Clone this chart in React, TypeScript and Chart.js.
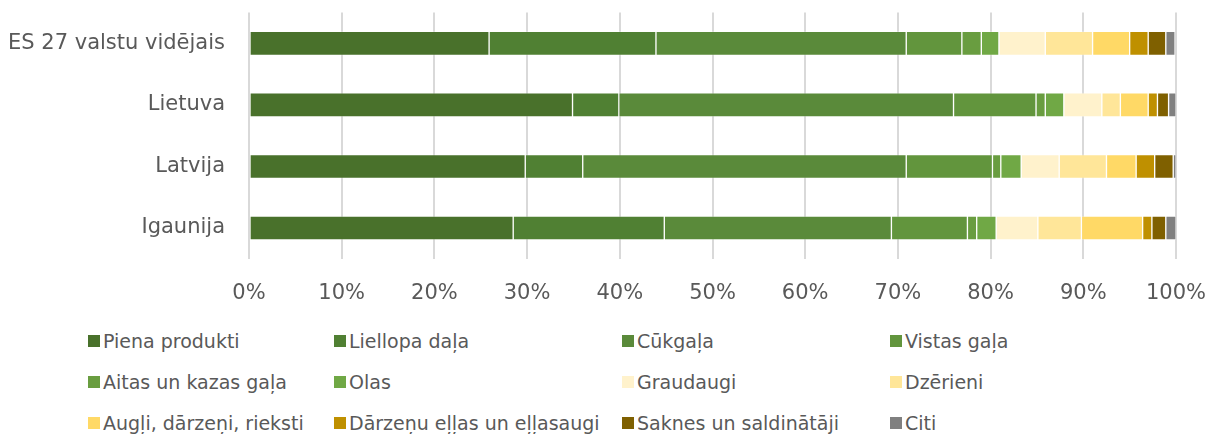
import React, { useEffect, useRef } from "react";
import { Chart, registerables } from "chart.js";

Chart.register(...registerables);

const categories = ["ES 27 valstu vidējais", "Lietuva", "Latvija", "Igaunija"];
const xTicks = [0, 10, 20, 30, 40, 50, 60, 70, 80, 90, 100];

const seriesNames = [
  "Piena produkti",
  "Liellopa daļa",
  "Cūkgaļa",
  "Vistas gaļa",
  "Aitas un kazas gaļa",
  "Olas",
  "Graudaugi",
  "Dzērieni",
  "Augļi, dārzeņi, rieksti",
  "Dārzeņu eļļas un eļļasaugi",
  "Saknes un saldinātāji",
  "Citi",
];

const pienaProdukti = [25.9, 34.9, 29.8, 28.5];
const liellopaDala = [18.0, 5.0, 6.2, 16.3];
const cukgala = [27.0, 36.1, 34.9, 24.5];
const vistasGala = [6.0, 8.9, 9.3, 8.2];
const aitasGala = [2.1, 1.0, 0.9, 1.0];
const olas = [1.9, 2.0, 2.2, 2.1];
const graudaugi = [5.0, 4.1, 4.1, 4.5];
const dzerieni = [5.1, 2.0, 5.1, 4.7];
const augli = [4.0, 3.0, 3.2, 6.6];
const ellas = [2.0, 1.0, 2.0, 1.0];
const saknes = [1.9, 1.2, 2.0, 1.5];
const citi = [1.0, 0.8, 0.3, 1.1];

const seriesValues = [
  pienaProdukti, liellopaDala, cukgala, vistasGala, aitasGala, olas,
  graudaugi, dzerieni, augli, ellas, saknes, citi,
];

const seriesColors = [
  "#49712b",
  "#508033",
  "#5a8a3a",
  "#62953d",
  "#699d40",
  "#70a845",
  "#fff2cc",
  "#ffe699",
  "#ffd966",
  "#bf9000",
  "#7f6000",
  "#808080",
];

const FONT = "Tahoma, 'DejaVu Sans', sans-serif";
const TEXT = "#595959";

// legend layout: columns x positions (box left) and row centers
const legendCols = [88, 334, 622, 890];
const legendRows = [341, 382, 423];

export default function App() {
  const ref = useRef<HTMLCanvasElement | null>(null);

  useEffect(() => {
    document.body.style.margin = "0";
    const ctx = ref.current!;
    const chart = new Chart(ctx, {
      type: "bar",
      data: {
        labels: categories,
        datasets: seriesNames.map((name, i) => ({
          label: name,
          data: seriesValues[i],
          backgroundColor: seriesColors[i],
          borderColor: "rgba(255,255,255,0.25)",
          borderWidth: 1,
          borderSkipped: false,
          barThickness: 24,
        })),
      },
      options: {
        indexAxis: "y",
        animation: false,
        responsive: false,
        maintainAspectRatio: false,
        layout: { padding: { top: 0, right: 33, left: 0, bottom: 0 } },
        plugins: { legend: { display: false }, tooltip: { enabled: false } },
        scales: {
          x: {
            stacked: true,
            min: 0,
            max: 100,
            afterBuildTicks: (scale: any) => {
              scale.ticks = xTicks.map((v) => ({ value: v }));
            },
            ticks: {
              callback: (v: any) => v + "%",
              color: TEXT,
              font: { family: FONT, size: 21 },
              padding: 0,
              maxRotation: 0,
            },
            grid: {
              color: "#d9d9d9",
              lineWidth: 2,
              drawTicks: true,
              tickLength: 22,
              tickColor: "rgba(0,0,0,0)",
            },
            border: { display: false },
          },
          y: {
            stacked: true,
            afterFit: (scale: any) => {
              scale.width = 249;
            },
            ticks: {
              color: TEXT,
              font: { family: FONT, size: 21 },
              padding: 0,
            },
            grid: { display: false, drawTicks: true, tickLength: 24 },
            border: { display: false },
          },
        },
      },
    });
    return () => chart.destroy();
  }, []);

  return (
    <div style={{ position: "relative", width: 1209, height: 434, background: "#fff" }}>
      <canvas ref={ref} width={1209} height={306} style={{ position: "absolute", left: 0, top: 0 }} />
      {seriesNames.map((name, i) => {
        const col = i % 4;
        const row = Math.floor(i / 4);
        return (
          <div
            key={name}
            style={{
              position: "absolute",
              left: legendCols[col],
              top: legendRows[row] - 12,
              height: 24,
              display: "flex",
              alignItems: "center",
              whiteSpace: "nowrap",
              fontFamily: FONT,
              fontSize: 19,
              color: TEXT,
            }}
          >
            <span
              style={{
                display: "inline-block",
                width: 12,
                height: 12,
                background: seriesColors[i],
                marginRight: 3,
              }}
            />
            <span>{name}</span>
          </div>
        );
      })}
    </div>
  );
}
